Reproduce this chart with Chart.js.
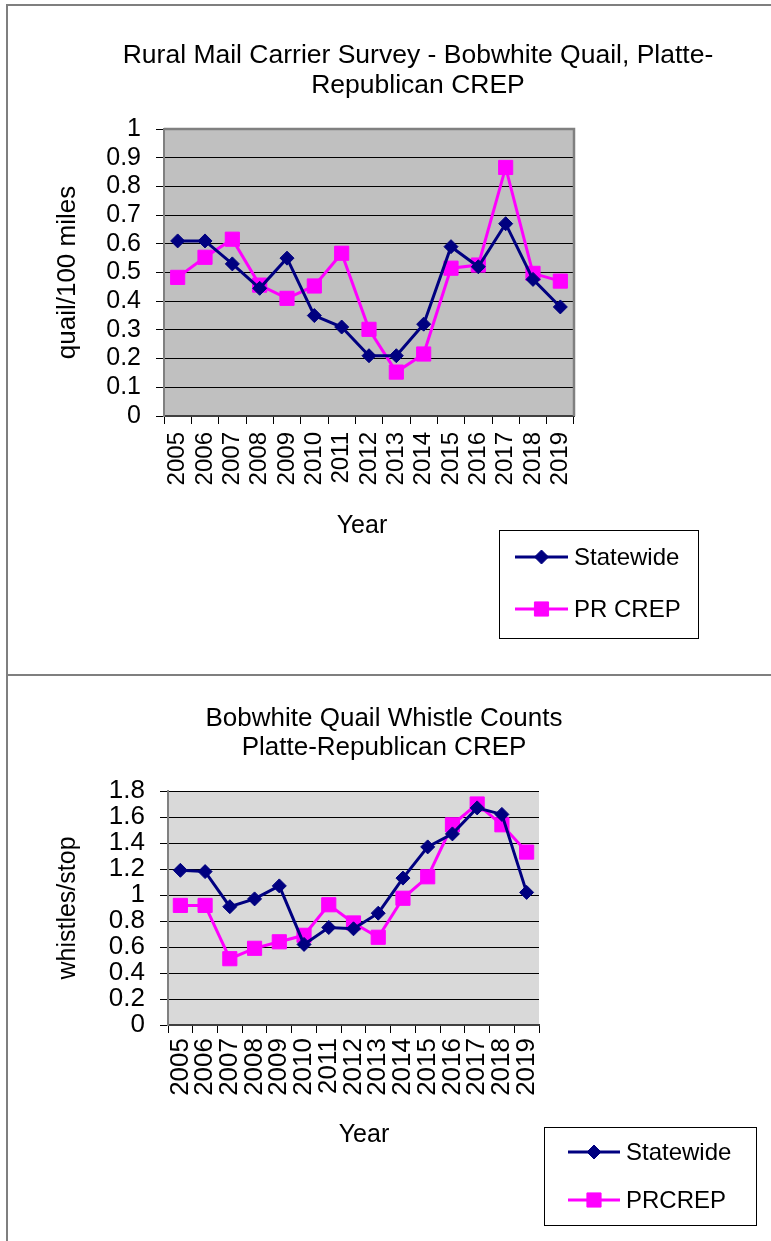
<!DOCTYPE html>
<html>
<head>
<meta charset="utf-8">
<script src="https://cdn.jsdelivr.net/npm/chart.js@4/dist/chart.umd.min.js"></script>
<style>
  html, body { margin: 0; padding: 0; background: #fff; overflow: hidden; }
  #page { position: relative; width: 771px; height: 1241px; }
  .frame { position: absolute; left: 6px; top: 4px; width: 765px; height: 1237px;
           border-left: 2px solid #7f7f7f; border-top: 2px solid #7f7f7f; }
  .divider { position: absolute; left: 6px; top: 674px; width: 765px; height: 0;
             border-top: 2px solid #7f7f7f; }
  canvas { position: absolute; left: 0; }
  #mailChart { top: 0; }
  #whistleChart { top: 676px; }
</style>
</head>
<body>
<div id="page">
  <div class="frame"></div>
  <div class="divider"></div>
  <canvas id="mailChart" width="771" height="674"></canvas>
  <canvas id="whistleChart" width="771" height="565"></canvas>
</div>
<script>
const years = ['2005', '2006', '2007', '2008', '2009', '2010', '2011', '2012',
               '2013', '2014', '2015', '2016', '2017', '2018', '2019'];

// Rural mail carrier survey (quail/100 miles)
const mailStatewide = [0.61, 0.61, 0.53, 0.445, 0.55, 0.35, 0.31, 0.21,
                       0.21, 0.32, 0.59, 0.52, 0.67, 0.476, 0.38];
const mailPrCrep = [0.483, 0.553, 0.616, 0.456, 0.41, 0.453, 0.567, 0.302,
                    0.153, 0.216, 0.515, 0.526, 0.866, 0.497, 0.47];

// Whistle counts (whistles/stop)
const whistleStatewide = [1.19, 1.18, 0.91, 0.97, 1.07, 0.62, 0.75, 0.74,
                          0.86, 1.13, 1.37, 1.47, 1.67, 1.62, 1.02];
const whistlePrCrep = [0.92, 0.92, 0.51, 0.59, 0.64, 0.69, 0.925, 0.785,
                       0.675, 0.975, 1.14, 1.54, 1.70, 1.54, 1.33];

const FONT = '"Liberation Sans", Arial, sans-serif';
const NAVY = '#000080';
const MAGENTA = '#FF00FF';

// fills the plot area and draws the grey frame on top/right
const plotBox = {
    id: 'plotBox',
    beforeDraw(chart, args, opts) {
        const { ctx, chartArea: a } = chart;
        ctx.save();
        ctx.fillStyle = opts.color;
        ctx.fillRect(a.left, a.top, a.right - a.left, a.bottom - a.top);
        ctx.restore();
    },
    afterDatasetsDraw(chart, args, opts) {
        if (!opts.frame) return;
        const { ctx, chartArea: a } = chart;
        ctx.save();
        ctx.strokeStyle = '#808080';
        ctx.lineWidth = 2.5;
        ctx.beginPath();
        ctx.moveTo(a.left, a.top);
        ctx.lineTo(a.right, a.top);
        ctx.lineTo(a.right, a.bottom);
        ctx.stroke();
        ctx.restore();
    }
};

// centred multi-line title and the x axis name at fixed spots
const titleBlock = {
    id: 'titleBlock',
    afterDraw(chart, args, opts) {
        const ctx = chart.ctx;
        ctx.save();
        ctx.fillStyle = '#000';
        ctx.textAlign = 'center';
        ctx.textBaseline = 'middle';
        ctx.font = opts.size + 'px ' + FONT;
        opts.lines.forEach((t, i) => ctx.fillText(t, opts.x, opts.y + i * opts.gap));
        ctx.font = '25px ' + FONT;
        ctx.fillText(opts.xName, opts.xNameAt[0], opts.xNameAt[1]);
        ctx.restore();
    }
};

// boxed legend below the plot, like the spreadsheet one
const boxLegend = {
    id: 'boxLegend',
    afterDraw(chart, args, opts) {
        const ctx = chart.ctx;
        const b = opts.box;
        ctx.save();
        ctx.strokeStyle = '#000';
        ctx.lineWidth = 1;
        ctx.strokeRect(b[0] + 0.5, b[1] + 0.5, b[2] - b[0], b[3] - b[1]);
        chart.data.datasets.forEach((ds, i) => {
            const y = opts.rows[i];
            ctx.strokeStyle = ds.borderColor;
            ctx.lineWidth = ds.borderWidth;
            ctx.beginPath();
            ctx.moveTo(opts.lineX[0], y);
            ctx.lineTo(opts.lineX[1], y);
            ctx.stroke();
            ctx.fillStyle = ds.pointBackgroundColor;
            ctx.strokeStyle = ds.pointBorderColor;
            ctx.lineWidth = 1;
            Chart.helpers.drawPoint(ctx, {
                pointStyle: ds.pointStyle, radius: ds.pointRadius,
                rotation: 0, borderWidth: 1
            }, (opts.lineX[0] + opts.lineX[1]) / 2, y);
            ctx.fillStyle = '#000';
            ctx.font = opts.size + 'px ' + FONT;
            ctx.textAlign = 'left';
            ctx.textBaseline = 'middle';
            ctx.fillText(ds.label, opts.textX, y + 1);
        });
        ctx.restore();
    }
};

function series(label, values, color, style, radius) {
    return {
        label: label,
        data: values,
        borderColor: color,
        backgroundColor: color,
        borderWidth: 3,
        pointStyle: style,
        pointRadius: radius,
        pointHoverRadius: radius,
        pointBackgroundColor: color,
        pointBorderColor: color,
        pointBorderWidth: 1,
        tension: 0
    };
}

function makeChart(id, cfg) {
    return new Chart(document.getElementById(id), {
        type: 'line',
        data: {
            labels: years,
            datasets: [
                series(cfg.names[0], cfg.statewide, NAVY, 'rectRot', 7),
                series(cfg.names[1], cfg.crep, MAGENTA, 'rect', 10)
            ]
        },
        options: {
            responsive: false,
            animation: false,
            events: [],
            layout: { padding: cfg.padding },
            plugins: {
                legend: { display: false },
                tooltip: { enabled: false },
                title: { display: false },
                plotBox: { color: cfg.bg, frame: cfg.frame },
                titleBlock: cfg.title,
                boxLegend: cfg.legend
            },
            scales: {
                x: {
                    offset: true,
                    grid: { offset: true, drawOnChartArea: false, drawTicks: true,
                            tickLength: 8, color: '#000', lineWidth: 1 },
                    border: { color: '#404040', width: 2 },
                    ticks: { autoSkip: false, minRotation: 90, maxRotation: 90,
                             padding: cfg.xPad, color: '#000',
                             font: { family: FONT, size: cfg.xSize } },
                    afterFit: s => { s.height = cfg.xHeight; }
                },
                y: {
                    min: 0,
                    max: cfg.max,
                    grid: { color: '#000', lineWidth: 1, tickLength: 8 },
                    border: { color: '#808080', width: 2 },
                    ticks: { stepSize: cfg.step, autoSkip: false, padding: 15, color: '#000',
                             font: { family: FONT, size: cfg.ySize },
                             callback: v => String(Number(v.toFixed(1))) },
                    title: { display: true, text: cfg.yTitle, color: '#000',
                             font: { family: FONT, size: cfg.yTitleSize },
                             padding: { top: cfg.yTitlePad, bottom: 0 } },
                    afterFit: s => { s.width = cfg.yWidth; }
                }
            }
        },
        plugins: [plotBox, titleBlock, boxLegend]
    });
}

makeChart('mailChart', {
    names: ['Statewide', 'PR CREP'],
    statewide: mailStatewide,
    crep: mailPrCrep,
    bg: '#C0C0C0',
    frame: true,
    max: 1,
    step: 0.1,
    yTitle: 'quail/100 miles',
    yTitleSize: 26,
    yTitlePad: 52,
    ySize: 25,
    xSize: 24,
    xPad: 8,
    yWidth: 164,
    xHeight: 126,
    padding: { left: 0, right: 197, top: 129, bottom: 132 },
    title: { lines: ['Rural Mail Carrier Survey - Bobwhite Quail, Platte-', 'Republican CREP'],
             x: 418, y: 56, gap: 30, size: 26.5,
             xName: 'Year', xNameAt: [362, 526] },
    legend: { box: [499, 530, 698, 638], lineX: [515, 568], rows: [557, 609],
              textX: 574, size: 24 }
});

makeChart('whistleChart', {
    names: ['Statewide', 'PRCREP'],
    statewide: whistleStatewide,
    crep: whistlePrCrep,
    bg: '#D9D9D9',
    frame: false,
    max: 1.8,
    step: 0.2,
    yTitle: 'whistles/stop',
    yTitleSize: 25,
    yTitlePad: 53,
    ySize: 26,
    xSize: 26,
    xPad: 5,
    yWidth: 168,
    xHeight: 125,
    padding: { left: 0, right: 232, top: 115, bottom: 91 },
    title: { lines: ['Bobwhite Quail Whistle Counts', 'Platte-Republican CREP'],
             x: 384, y: 43, gap: 29, size: 26,
             xName: 'Year', xNameAt: [364, 459] },
    legend: { box: [544, 451, 756, 549], lineX: [568, 620], rows: [476, 524],
              textX: 626, size: 24 }
});
</script>
</body>
</html>
